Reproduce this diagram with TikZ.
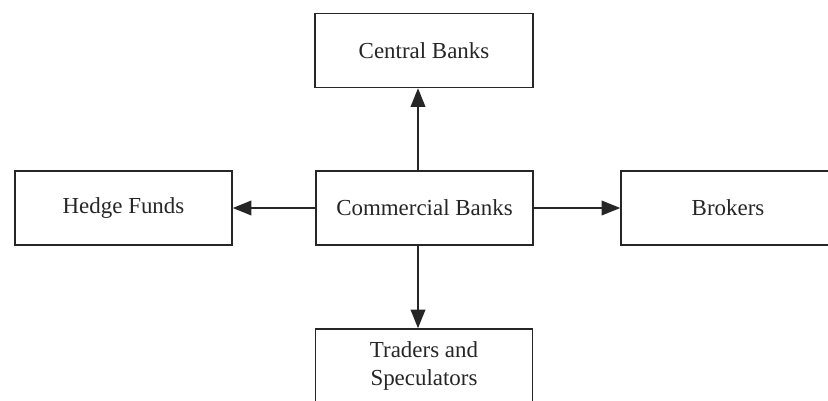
\documentclass[tikz,border=0pt]{standalone}
\usepackage{fontspec}
\setmainfont{Liberation Serif}
\usetikzlibrary{arrows.meta}
\begin{document}
\begin{tikzpicture}[x=0.75pt,y=-0.75pt,
  box/.style={draw=black!85, line width=1.1pt, inner sep=0pt,
    minimum width=#1*0.75pt, minimum height=74*0.75pt, align=center,
    font=\fontsize{17.2pt}{21pt}\selectfont, text=black!85},
  box/.default=217,
  link/.style={draw=black!85, line width=1.1pt,
    -{Triangle[length=14pt,width=11pt]}}]
  \clip (0,0) rectangle (828,400);
  \fill[white] (0,0) rectangle (828,400);
  % the five parties
  \node[box=218] (central) at (424,50.5) {Central Banks};
  \node[box] (hedge) at (123.5,208) {Hedge Funds};
  \node[box] (comm) at (424.5,208) {Commercial Banks};
  \node[box=214] (brokers) at (728,208) {Brokers};
  \node[box] (traders) at (424,366) {Traders and\\Speculators};
  % vertical links run slightly left of the box centres
  \coordinate (vx) at (418,0);
  \draw[link] (comm.north -| vx) -- (central.south -| vx);
  \draw[link] (comm.south -| vx) -- (traders.north -| vx);
  \draw[link] (comm.west) -- (hedge.east);
  \draw[link] (comm.east) -- (brokers.west);
\end{tikzpicture}
\end{document}
